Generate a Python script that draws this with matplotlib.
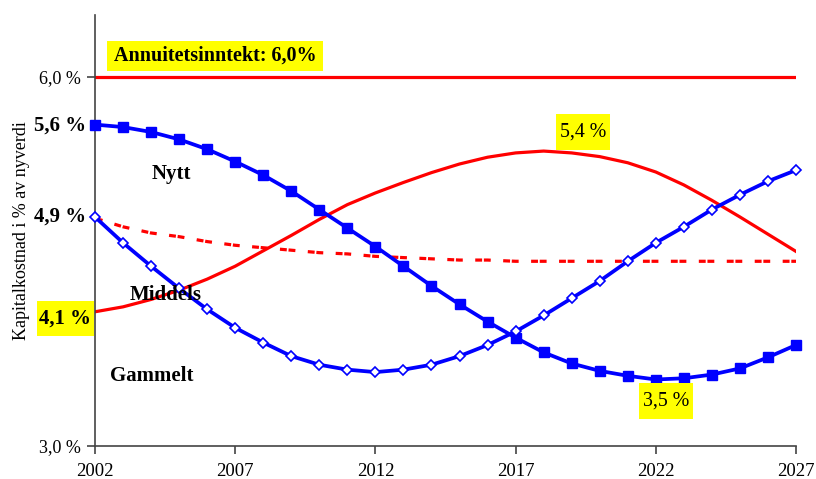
import matplotlib
matplotlib.use("Agg")
import matplotlib.pyplot as plt
from matplotlib.patches import Rectangle

years = list(range(2002, 2028))
nytt = [5.61, 5.59, 5.55, 5.49, 5.41, 5.31, 5.20, 5.07, 4.92, 4.77, 4.62, 4.46, 4.30,
        4.15, 4.01, 3.88, 3.76, 3.67, 3.61, 3.57, 3.54, 3.55, 3.58, 3.63, 3.72, 3.82]
gammelt = [4.86, 4.65, 4.46, 4.28, 4.11, 3.96, 3.84, 3.73, 3.66, 3.62, 3.60, 3.62, 3.66,
           3.73, 3.82, 3.93, 4.06, 4.20, 4.34, 4.50, 4.65, 4.78, 4.92, 5.04, 5.15, 5.24]
annuitet_red = [4.09, 4.13, 4.19, 4.265, 4.355, 4.46, 4.585, 4.71, 4.84, 4.96, 5.055, 5.14,
                5.22, 5.29, 5.345, 5.38, 5.395, 5.38, 5.35, 5.30, 5.225, 5.12, 4.995, 4.86,
                4.72, 4.58]
middels = [4.85, 4.78, 4.73, 4.70, 4.66, 4.63, 4.61, 4.59, 4.57, 4.56, 4.54, 4.53, 4.52,
           4.51, 4.51, 4.50, 4.50, 4.50, 4.50, 4.50, 4.50, 4.50, 4.50, 4.50, 4.50, 4.50]
annuitetsinntekt = 6.0
xticks = [2002, 2007, 2012, 2017, 2022, 2027]
yticks = [3.0, 6.0]
ytick_labels = ["3,0 %", "6,0 %"]

plt.rcParams['font.family'] = ['Liberation Serif', 'DejaVu Serif']

fig = plt.figure(figsize=(8.16, 4.79), dpi=100)
ax = fig.add_axes([95/816, 33/479, (796-95)/816, (446-15)/479])

red = '#ff0000'
blue = '#0000ff'
yellow = '#ffff00'

ax.plot([2002, 2027], [annuitetsinntekt, annuitetsinntekt], color=red, lw=2.3, zorder=2)
ax.plot(years, annuitet_red, color=red, lw=2.3, zorder=2)
ax.plot(years, middels, color=red, lw=2.3, zorder=2,
        linestyle=(2.4, (2.15, 0.55, 2.15, 3.9)), dash_capstyle='butt')
ax.plot(years, nytt, color=blue, lw=2.7, marker='s', ms=7, mfc=blue, mec=blue, zorder=3,
        clip_on=False)
ax.plot(years, gammelt, color=blue, lw=2.7, marker='D', ms=5, mfc='white', mec=blue, mew=1.2,
        zorder=3, clip_on=False)

ax.set_xlim(2002, 2027)
ax.set_ylim(3.0, 6.5)
ax.set_xticks(xticks)
ax.set_xticklabels([str(x) for x in xticks], fontsize=13.5)
ax.set_yticks(yticks)
ax.set_yticklabels(ytick_labels, fontsize=13)
ax.tick_params(direction='out', length=6, width=1.2, color='#444444', pad=4)
ax.tick_params(axis='x', pad=6)
for s in ['top', 'right']:
    ax.spines[s].set_visible(False)
for s in ['left', 'bottom']:
    ax.spines[s].set_color('#444444')
    ax.spines[s].set_linewidth(1.2)

ax.set_ylabel("Kapitalkostnad i % av nyverdi", fontsize=13, labelpad=7)


def label_box(x0, x1, y0, y1, text, **kw):
    ax.add_patch(Rectangle((x0, y0), x1 - x0, y1 - y0, facecolor=yellow, edgecolor='none',
                           zorder=4, clip_on=False))
    ax.text((x0 + x1) / 2, (y0 + y1) / 2, text, ha='center', va='center', zorder=5,
            clip_on=False, **kw)


label_box(2002.42, 2010.13, 6.049, 6.285, "Annuitetsinntekt: 6,0%", fontsize=14.5,
          fontweight='bold')
label_box(2018.44, 2020.37, 5.407, 5.699, "5,4 %", fontsize=14.3)
label_box(2021.40, 2023.31, 3.22, 3.515, "3,5 %", fontsize=14.3)
label_box(1999.92, 2001.96, 3.894, 4.179, "4,1 %", fontsize=15, fontweight='bold')

ax.text(2001.7, 5.60, "5,6 %", fontsize=15, fontweight='bold', ha='right', va='center',
        clip_on=False)
ax.text(2001.7, 4.86, "4,9 %", fontsize=15, fontweight='bold', ha='right', va='center',
        clip_on=False)
ax.text(2004.71, 5.21, "Nytt", fontsize=15, fontweight='bold', ha='center', va='center')
ax.text(2004.53, 4.23, "Middels", fontsize=15, fontweight='bold', ha='center', va='center',
        zorder=5)
ax.text(2004.03, 3.57, "Gammelt", fontsize=15, fontweight='bold', ha='center', va='center')

fig.savefig("out.png", dpi=100)
